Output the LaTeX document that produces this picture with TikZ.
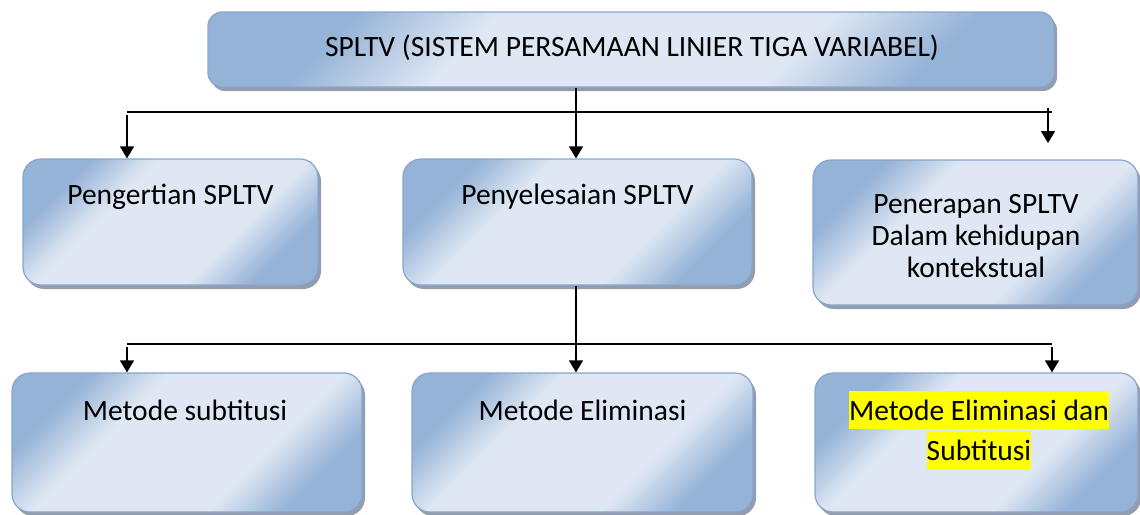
\documentclass[tikz,border=0pt]{standalone}
\usepackage{fontspec}
\setmainfont{Carlito}
\usetikzlibrary{shadows,arrows.meta}
\definecolor{boxdark}{RGB}{149,179,215}
\definecolor{boxlight}{RGB}{222,231,243}
\definecolor{boxedge}{RGB}{136,165,207}
\definecolor{shadowc}{RGB}{120,132,152}
\definecolor{hl}{RGB}{255,255,0}
\pgfdeclareverticalshading{boxshade}{100bp}{color(0bp)=(boxdark); color(26bp)=(boxdark); color(37bp)=(boxlight); color(63bp)=(boxlight); color(74bp)=(boxdark); color(100bp)=(boxdark)}
\newcommand{\hlt}[1]{{\setlength{\fboxsep}{0pt}\colorbox{hl}{\rule[-0.3em]{0pt}{1.3em}#1}}}
\tikzset{
  cbox/.style={draw=boxedge, line width=1.2pt, rounded corners=18pt,
    shading=boxshade, shading angle=45,
    drop shadow={shadow xshift=3pt, shadow yshift=-4pt, fill=shadowc, opacity=0.8},
    inner sep=0pt},
  txt/.style={font=\fontsize{29.5}{32}\selectfont, align=center, inner sep=0pt},
  conn/.style={line width=1.5pt},
  arr/.style={line width=1.5pt, -{Triangle[width=14pt,length=12pt]}}
}
\begin{document}
\begin{tikzpicture}[x=1pt,y=-1pt]
\useasboundingbox (0,0) rectangle (1140,514);
% boxes
\node[cbox, rounded corners=14pt, minimum width=846pt, minimum height=75pt] (top) at (631,49.5) {};
\node[cbox, minimum width=295pt, minimum height=126pt] (b1) at (170.5,222) {};
\node[cbox, minimum width=349pt, minimum height=126pt] (b2) at (577.5,222) {};
\node[cbox, minimum width=325pt, minimum height=145pt] (b3) at (975.5,232.5) {};
\node[cbox, minimum width=350pt, minimum height=139pt] (c1) at (187,442.5) {};
\node[cbox, minimum width=341pt, minimum height=139pt] (c2) at (582.5,442.5) {};
\node[cbox, minimum width=323pt, minimum height=139pt] (c3) at (976.5,442.5) {};
% texts
\node[txt, anchor=base] (ttop) at (632,56) {SPLTV (SISTEM PERSAMAAN LINIER TIGA VARIABEL)};
\node[txt, anchor=base] (tb1) at (170.5,204) {Pengertian SPLTV};
\node[txt, anchor=base] (tb2) at (577.5,204) {Penyelesaian SPLTV};
\node[txt, anchor=base, font=\fontsize{29.5}{32}\selectfont] (tb3) at (976,277) {Penerapan SPLTV\\Dalam kehidupan\\kontekstual};
\node[txt, anchor=base] (tc1) at (185,420) {Metode subtitusi};
\node[txt, anchor=base] (tc2) at (582.5,420) {Metode Eliminasi};
\node[txt, anchor=base, font=\fontsize{29.5}{40}\selectfont] (tc3) at (979,460) {\hlt{Metode Eliminasi dan}\\\hlt{Subtitusi}};
% connector coordinates
\coordinate (h1l) at (127,112);
\coordinate (h1r) at (1052,112);
\coordinate (h1a) at (1048,108);
\coordinate (h1b) at (1048,143);
\coordinate (h2l) at (127,344);
\coordinate (h2r) at (1052,344);
% upper connectors
\draw[conn] (h1l) -- (h1r);
\draw[arr] (top.south -| b2.north) ++(-1.5,0) coordinate (v1) -- (v1 |- b2.north);
\draw[arr] ([yshift=-3pt]h1l) -- (h1l |- b1.north);
\draw[arr] (h1a) -- (h1b);
% lower connectors
\draw[conn] (h2l) -- (h2r);
\draw[arr] (b2.south) ++(-1.5,0) coordinate (v2) -- (v2 |- c2.north);
\draw[arr] ([yshift=-3pt]h2l) -- (h2l |- c1.north);
\draw[arr] ([yshift=-3pt]h2r) -- (h2r |- c3.north);
\end{tikzpicture}
\end{document}
